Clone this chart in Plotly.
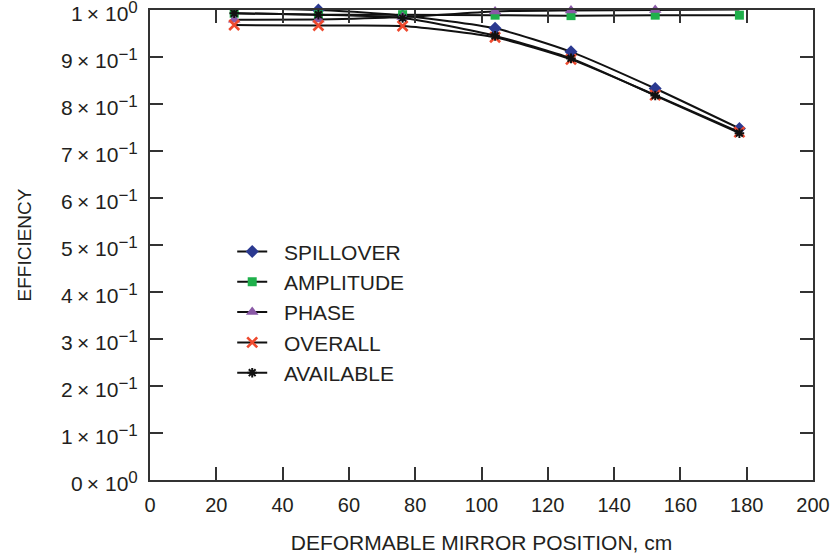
import plotly.graph_objects as go

# Mirror positions along the beam path (cm)
position_cm = [25.4, 50.8, 76.2, 104.1, 127.0, 152.4, 177.8]

# Efficiency components at each mirror position
spillover = [1.004, 1.000, 0.988, 0.961, 0.911, 0.833, 0.748]
amplitude = [0.993, 0.990, 0.990, 0.989, 0.988, 0.989, 0.989]
phase = [0.979, 0.980, 0.985, 0.997, 0.999, 1.000, 1.001]
overall = [0.968, 0.967, 0.966, 0.942, 0.895, 0.819, 0.740]
available = [0.993, 0.990, 0.983, 0.945, 0.897, 0.818, 0.738]

series_names = ["SPILLOVER", "AMPLITUDE", "PHASE", "OVERALL", "AVAILABLE"]
series_values = [spillover, amplitude, phase, overall, available]

# Axis ticks
x_ticks = [0, 20, 40, 60, 80, 100, 120, 140, 160, 180, 200]
y_ticks = [0, 0.1, 0.2, 0.3, 0.4, 0.5, 0.6, 0.7, 0.8, 0.9, 1.0]
y_mantissa = [0, 1, 2, 3, 4, 5, 6, 7, 8, 9, 1]
y_exponent = ["0", "−1", "−1", "−1", "−1", "−1", "−1", "−1", "−1", "−1", "0"]
y_tick_text = [
    f"{m}\u2009× 10<sup><span style='font-size:17px'>{e}</span></sup>"
    for m, e in zip(y_mantissa, y_exponent)
]

marker_styles = [
    dict(symbol="diamond", color="#2b3990", size=10),
    dict(symbol="square", color="#1fb04b", size=9),
    dict(symbol="triangle-up", color="#8a59a6", size=11),
    dict(symbol="x-thin-open", color="#ee4a2f", size=10, line=dict(width=2.6, color="#ee4a2f")),
    dict(symbol="asterisk-open", color="#111111", size=8, line=dict(width=2, color="#111111")),
]

TEXT = "#231f20"
FONT = "Liberation Sans, Arial, Helvetica, sans-serif"
FS = 21

fig = go.Figure()
for name, vals, mk in zip(series_names, series_values, marker_styles):
    fig.add_trace(go.Scatter(
        x=position_cm, y=vals, name="\u00a0\u00a0" + name,
        mode="lines+markers",
        line=dict(color="#111111", width=2, shape="spline", smoothing=0.6),
        marker=mk,
        cliponaxis=False,
    ))

fig.update_layout(
    width=830, height=560,
    margin=dict(l=150, r=17, t=10, b=80, autoexpand=False),
    paper_bgcolor="white", plot_bgcolor="white",
    font=dict(family=FONT, color=TEXT, size=FS),
    showlegend=True,
    legend=dict(
        x=0.124, y=0.529, xanchor="left", yanchor="top",
        font=dict(size=FS, color=TEXT, family=FONT),
        bgcolor="rgba(0,0,0,0)", itemwidth=30,
    ),
    xaxis=dict(
        range=[0, 200], tickvals=x_ticks, automargin=False,
        ticks="inside", ticklen=13, tickwidth=1.5, tickcolor="#333333",
        showline=True, linecolor="#333333", linewidth=2, mirror="ticks",
        showgrid=False, zeroline=False,
        tickfont=dict(size=20), ticklabelstandoff=6, ticklabeloverflow="allow",
        title=dict(text="DEFORMABLE MIRROR POSITION, cm", font=dict(size=FS), standoff=20),
    ),
    yaxis=dict(
        range=[0, 1], tickvals=y_ticks, ticktext=y_tick_text, automargin=False,
        ticks="inside", ticklen=13, tickwidth=1.5, tickcolor="#333333",
        showline=True, linecolor="#333333", linewidth=2, mirror="ticks",
        showgrid=False, zeroline=False,
        tickfont=dict(size=FS), ticklabelstandoff=6, ticklabelshift=4,
        ticklabeloverflow="allow",
        title=dict(text="EFFICIENCY", font=dict(size=19), standoff=24),
    ),
)

fig.write_html("out.html")
